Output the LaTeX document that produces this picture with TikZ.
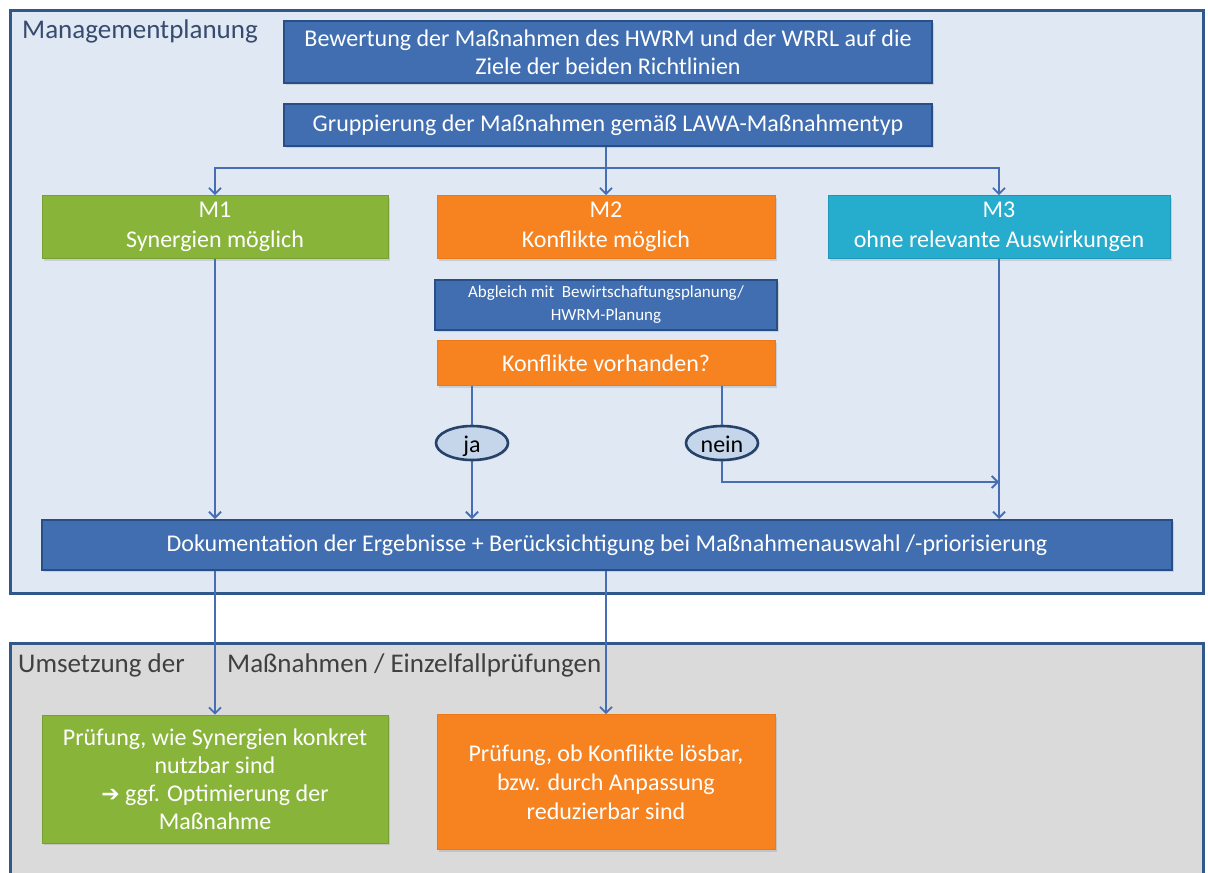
\documentclass[tikz,border=0pt]{standalone}
\usepackage{fontspec}
\setmainfont{Carlito}
\newfontfamily\djv{DejaVu Sans}
\usetikzlibrary{arrows.meta,shadows,shapes.geometric}
\definecolor{bluebox}{RGB}{64,110,176}
\definecolor{blueedge}{RGB}{40,78,135}
\definecolor{greenbox}{RGB}{136,180,58}
\definecolor{greenedge}{RGB}{118,160,50}
\definecolor{orangebox}{RGB}{246,130,32}
\definecolor{orangeedge}{RGB}{235,120,25}
\definecolor{cyanbox}{RGB}{38,172,204}
\definecolor{cyanedge}{RGB}{30,150,185}
\definecolor{panelA}{RGB}{224,233,243}
\definecolor{panelB}{RGB}{218,218,218}
\definecolor{paneledge}{RGB}{48,88,138}
\definecolor{linecol}{RGB}{70,110,180}
\definecolor{ellfill}{RGB}{198,214,234}
\definecolor{elledge}{RGB}{38,66,105}
\definecolor{titletext}{RGB}{55,75,110}
\begin{document}
\begin{tikzpicture}[x=1pt,y=-1pt,
  boxbase/.style={rectangle, align=center, text=white, inner sep=2pt,
    font=\fontsize{24}{28}\selectfont,
    drop shadow={opacity=0.25, shadow xshift=2pt, shadow yshift=-2pt}},
  bluestyle/.style={boxbase, fill=bluebox, draw=blueedge, line width=2pt},
  greenstyle/.style={boxbase, fill=greenbox, draw=greenedge, line width=0.8pt},
  orangestyle/.style={boxbase, fill=orangebox, draw=orangeedge, line width=0.8pt},
  cyanstyle/.style={boxbase, fill=cyanbox, draw=cyanedge, line width=0.8pt},
  decision/.style={ellipse, fill=ellfill, draw=elledge, line width=2.6pt,
    minimum width=72pt, minimum height=34pt, inner sep=0pt,
    text height=19pt, text depth=1pt,
    font=\fontsize{24}{26}\selectfont,
    drop shadow={opacity=0.2, shadow xshift=1.5pt, shadow yshift=-1.5pt}},
  conn/.style={draw=linecol, line width=2pt},
  arr/.style={conn, -{Straight Barb[length=6pt,width=12pt,line width=1.8pt]}},
  paneltitle/.style={anchor=west, text=titletext, font=\fontsize{27}{30}\selectfont, inner sep=0pt}
]
\useasboundingbox (0,0) rectangle (1208,873);
\fill[white] (0,0) rectangle (1208,873);
% panels
\draw[fill=panelA, draw=paneledge, line width=3pt] (10,10) rectangle (1203,593);
\draw[fill=panelB, draw=paneledge, line width=3pt] (10,643) rectangle (1203,890);
\node[paneltitle] (t1) at (22,31) {Managementplanung};
\node[paneltitle, text=black!75] (t2a) at (18,665) {Umsetzung der};
\node[paneltitle, text=black!75] (t2b) at (227,665) {Maßnahmen / Einzelfallprüfungen};

% boxes
\node[bluestyle, minimum width=648pt, minimum height=62pt] (bew) at (608,52)
  {Bewertung der Maßnahmen des HWRM und der WRRL auf die\\Ziele der beiden Richtlinien};
\node[bluestyle, minimum width=648pt, minimum height=42pt] (grp) at (608,125)
  {Gruppierung der Maßnahmen gemäß LAWA-Maßnahmentyp};
\node[greenstyle, minimum width=346pt, minimum height=63pt, font=\fontsize{24}{30}\selectfont] (m1) at (215,227)
  {M1\\Synergien möglich};
\node[orangestyle, minimum width=338pt, minimum height=63pt, font=\fontsize{24}{30}\selectfont] (m2) at (606,227)
  {M2\\Konflikte möglich};
\node[cyanstyle, minimum width=342pt, minimum height=63pt, font=\fontsize{24}{30}\selectfont] (m3) at (999,227)
  {M3\\ohne relevante Auswirkungen};
\node[bluestyle, minimum width=342pt, minimum height=50pt, font=\fontsize{17}{23}\selectfont] (abg) at (606,305)
  {Abgleich mit\ \ Bewirtschaftungsplanung/\\HWRM-Planung};
\node[orangestyle, minimum width=338pt, minimum height=45pt] (konf) at (606,363)
  {Konflikte vorhanden?};
\node[decision] (ja) at (472,443) {ja};
\node[decision] (nein) at (722,443) {nein};
\node[bluestyle, minimum width=1130pt, minimum height=50pt] (doku) at (607,545)
  {Dokumentation der Ergebnisse + Berücksichtigung bei Maßnahmenauswahl /-priorisierung};
\node[greenstyle, minimum width=346pt, minimum height=128pt] (pw) at (215,779)
  {Prüfung, wie Synergien konkret\\nutzbar sind\\{\djv\bfseries\fontsize{22}{24}\selectfont ➔} ggf. Optimierung der\\Maßnahme};
\node[orangestyle, minimum width=338pt, minimum height=135pt, font=\fontsize{24}{29}\selectfont] (po) at (606,782)
  {Prüfung, ob Konflikte lösbar,\\bzw. durch Anpassung\\reduzierbar sind};

% connectors
\coordinate (split) at (606,168);
\coordinate (njoin) at (999,482);
\draw[conn] (grp.south -| split) -- (split);
\draw[arr] (split) -| (m1.north);
\draw[arr] (split) -- (m2.north);
\draw[arr] (split) -| (m3.north);
\draw[arr] (m1.south) -- (m1.south |- doku.north);
\draw[arr] (m3.south) -- (m3.south |- doku.north);
\draw[conn] (konf.south -| ja) -- (ja.north);
\draw[conn] (konf.south -| nein) -- (nein.north);
\draw[arr] (ja.south) -- (ja.south |- doku.north);
\draw[arr] (nein.south) |- (njoin);
\draw[arr] (doku.south -| pw) -- (pw.north);
\draw[arr] (doku.south -| po) -- (po.north);
\end{tikzpicture}
\end{document}
